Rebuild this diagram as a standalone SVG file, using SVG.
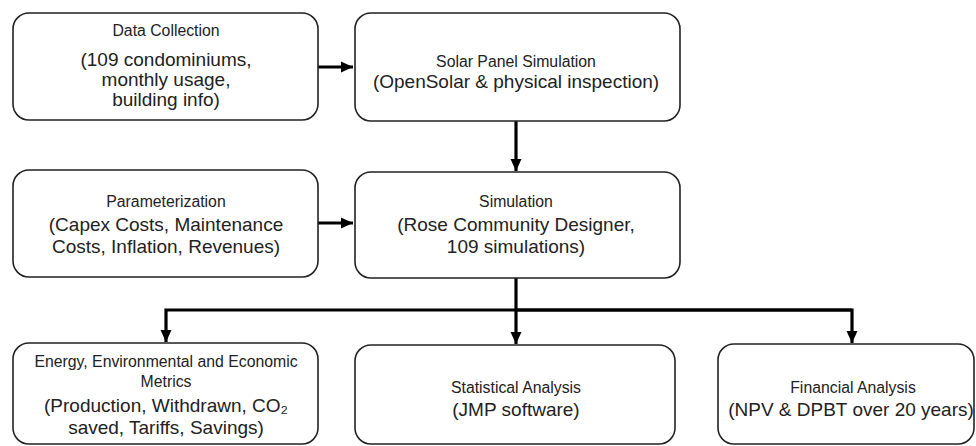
<svg xmlns="http://www.w3.org/2000/svg" width="976" height="446" viewBox="0 0 976 446">
<style>
.box{fill:#fff;stroke:#222;stroke-width:1.6}
.t{font-family:"Liberation Sans",Arial,sans-serif;fill:#222;text-anchor:middle}
.h{font-size:15.8px}
.d{font-size:19px}
.c{fill:none;stroke:#000;stroke-width:3.2}
</style>
<defs>
<marker id="ah" markerUnits="userSpaceOnUse" markerWidth="12" markerHeight="12" viewBox="0 0 12 12" refX="12" refY="6" orient="auto">
<path d="M0,0.5 L12,6 L0,11.5 Z" fill="#000"/>
</marker>
</defs>
<rect width="976" height="446" fill="#fff"/>
<g id="connectors">
<path class="c" d="M318,67 H353" marker-end="url(#ah)"/>
<path class="c" d="M318,223 H353" marker-end="url(#ah)"/>
<path class="c" d="M516,121 V171" marker-end="url(#ah)"/>
<path class="c" d="M516,278 V344" marker-end="url(#ah)"/>
<path class="c" d="M852,310 H166 V342" marker-end="url(#ah)"/>
<path class="c" d="M516,310 H852 V343" marker-end="url(#ah)"/>
</g>
<g id="data-collection">
<rect class="box" x="13" y="13" width="305" height="107" rx="16"/>
<text class="t h" x="166" y="36">Data Collection</text>
<text class="t d" x="166" y="66">(109 condominiums,</text>
<text class="t d" x="166" y="86">monthly usage,</text>
<text class="t d" x="166" y="106">building info)</text>
</g>
<g id="solar-panel-simulation">
<rect class="box" x="355" y="13" width="325" height="108" rx="16"/>
<text class="t h" x="516" y="67">Solar Panel Simulation</text>
<text class="t d" x="516" y="88">(OpenSolar &amp; physical inspection)</text>
</g>
<g id="parameterization">
<rect class="box" x="13" y="170" width="305" height="107" rx="16"/>
<text class="t h" x="166" y="207">Parameterization</text>
<text class="t d" x="166" y="231">(Capex Costs, Maintenance</text>
<text class="t d" x="166" y="253">Costs, Inflation, Revenues)</text>
</g>
<g id="simulation">
<rect class="box" x="355" y="172" width="325" height="106" rx="16"/>
<text class="t h" x="516" y="207">Simulation</text>
<text class="t d" x="516" y="231">(Rose Community Designer,</text>
<text class="t d" x="516" y="253">109 simulations)</text>
</g>
<g id="metrics">
<rect class="box" x="13" y="343" width="305" height="101" rx="16"/>
<text class="t h" x="166" y="367">Energy, Environmental and Economic</text>
<text class="t h" x="166" y="387">Metrics</text>
<text class="t d" x="166" y="412">(Production, Withdrawn, CO₂</text>
<text class="t d" x="166" y="434">saved, Tariffs, Savings)</text>
</g>
<g id="statistical-analysis">
<rect class="box" x="355" y="345" width="320" height="99" rx="16"/>
<text class="t h" x="516" y="393">Statistical Analysis</text>
<text class="t d" x="516" y="416">(JMP software)</text>
</g>
<g id="financial-analysis">
<rect class="box" x="718" y="344" width="256" height="100" rx="16"/>
<text class="t h" x="853" y="393">Financial Analysis</text>
<text class="t d" x="851" y="416">(NPV &amp; DPBT over 20 years)</text>
</g>
</svg>
